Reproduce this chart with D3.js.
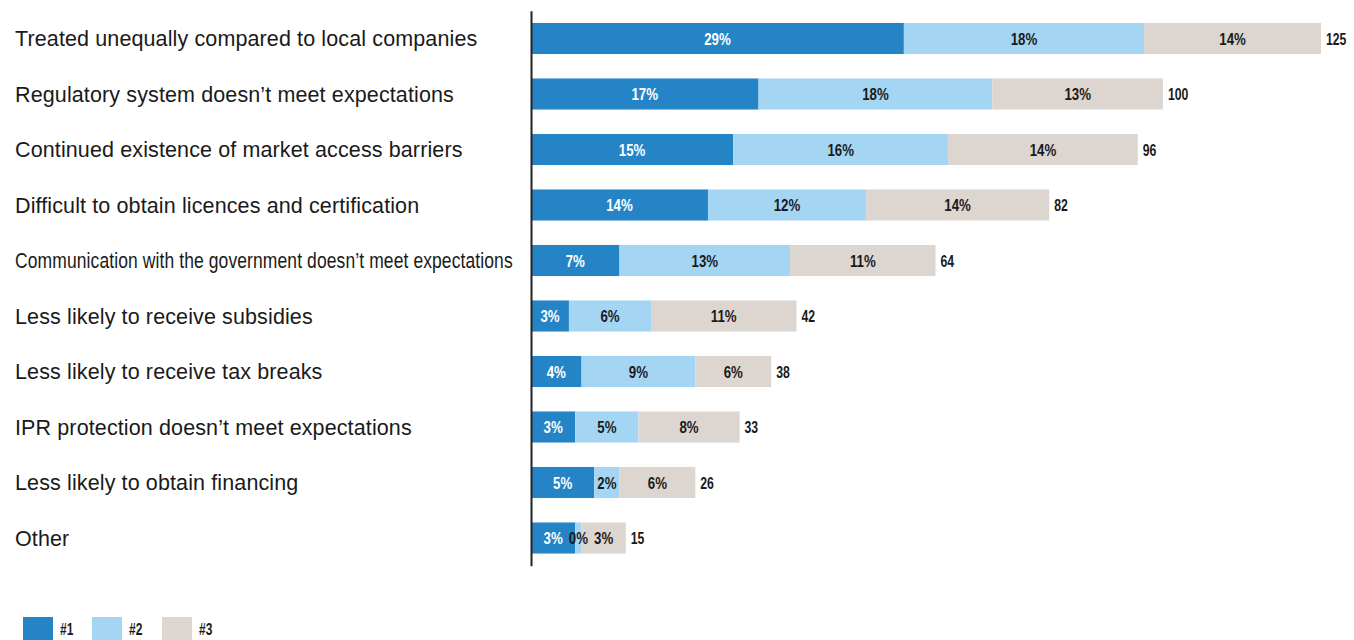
<!DOCTYPE html>
<html>
<head>
<meta charset="utf-8">
<script src="https://cdn.jsdelivr.net/npm/d3@7"></script>
<style>
  html, body { margin: 0; padding: 0; background: #fff; }
  svg { display: block; font-family: "Liberation Sans", Arial, sans-serif; }
</style>
</head>
<body>
<svg id="chart" width="1354" height="640"></svg>
<script>
const categories = [
  "Treated unequally compared to local companies",
  "Regulatory system doesn\u2019t meet expectations",
  "Continued existence of market access barriers",
  "Difficult to obtain licences and certification",
  "Communication with the government doesn\u2019t meet expectations",
  "Less likely to receive subsidies",
  "Less likely to receive tax breaks",
  "IPR protection doesn\u2019t meet expectations",
  "Less likely to obtain financing",
  "Other"
];
const seriesNames = ["#1", "#2", "#3"];
const rank1 = [59, 36, 32, 28, 14, 6, 8, 7, 10, 7];
const rank2 = [38, 37, 34, 25, 27, 13, 18, 10, 4, 1];
const rank3 = [28, 27, 30, 29, 23, 23, 12, 16, 12, 7];
const pct1 = ["29%", "17%", "15%", "14%", "7%", "3%", "4%", "3%", "5%", "3%"];
const pct2 = ["18%", "18%", "16%", "12%", "13%", "6%", "9%", "5%", "2%", "0%"];
const pct3 = ["14%", "13%", "14%", "14%", "11%", "11%", "6%", "8%", "6%", "3%"];
const totals = [125, 100, 96, 82, 64, 42, 38, 33, 26, 15];

const colors = ["#2484c6", "#a4d5f3", "#ddd5d0"];
const textColors = ["#ffffff", "#1a1a1a", "#1a1a1a"];

const rows = categories.map((c, i) => ({
  cat: c, v: [rank1[i], rank2[i], rank3[i]],
  p: [pct1[i], pct2[i], pct3[i]], total: totals[i]
}));

const svg = d3.select("#chart");
const x = d3.scaleLinear().domain([0, 125]).range([531, 1321]);
const y = d3.scaleBand().domain(categories).range([10.75, 565.75]).paddingInner(0.44).paddingOuter(0.22);

function narrowText(sel, px, py, anchor, sx) {
  return sel.attr("x", 0).attr("y", 0)
    .attr("transform", (d, i) => `translate(${px(d, i)},${py(d, i)}) scale(${sx},1)`)
    .attr("dy", "0.36em")
    .attr("text-anchor", anchor)
    .attr("font-size", 17)
    .attr("font-weight", "bold");
}

const stack = d3.stack().keys([0, 1, 2]).value((d, k) => d.v[k]);
const layers = stack(rows);

const g = svg.append("g");
layers.forEach((layer, k) => {
  g.append("g").selectAll("rect").data(layer).join("rect")
    .attr("x", d => x(d[0]))
    .attr("y", d => y(d.data.cat))
    .attr("width", d => x(d[1]) - x(d[0]))
    .attr("height", y.bandwidth())
    .attr("fill", colors[k]);
});
layers.forEach((layer, k) => {
  g.append("g").selectAll("text").data(layer).join("text")
    .call(narrowText, d => (x(d[0]) + x(d[1])) / 2, d => y(d.data.cat) + y.bandwidth() / 2, "middle", 0.78)
    .attr("fill", textColors[k])
    .text(d => d.data.p[k]);
});

// totals
g.append("g").selectAll("text").data(rows).join("text")
  .call(narrowText, d => x(d.total) + 5, d => y(d.cat) + y.bandwidth() / 2, "start", 0.72)
  .attr("fill", "#1a1a1a")
  .text(d => d.total);

// axis line
const axis = svg.append("g").attr("transform", `translate(${x(0)},0)`)
  .call(d3.axisLeft(y).tickSize(0).tickSizeOuter(0).tickFormat(""));
axis.select(".domain").attr("stroke", "#222").attr("stroke-width", 2);

// category labels
svg.append("g").selectAll("text").data(categories).join("text")
  .attr("x", 0).attr("y", 0)
  .attr("dy", "0.36em")
  .attr("font-size", 21.5)
  .attr("letter-spacing", "0.12")
  .attr("fill", "#1a1a1a")
  .text(d => d)
  .each(function(d, i) {
    let s = 1;
    if (i === 4) {
      const len = this.getComputedTextLength();
      s = 498 / len;
    }
    d3.select(this).attr("transform", `translate(15,${y(d) + y.bandwidth() / 2}) scale(${s},1)`);
  });

// legend
const legend = svg.append("g");
const lx = [23, 92, 162];
seriesNames.forEach((n, k) => {
  legend.append("rect").attr("x", lx[k]).attr("y", 617).attr("width", 30).attr("height", 24).attr("fill", colors[k]);
  legend.append("text").datum(n)
    .call(narrowText, () => lx[k] + 37, () => 629, "start", 0.75)
    .attr("font-size", 16)
    .attr("fill", "#1a1a1a").text(n);
});
</script>
</body>
</html>
